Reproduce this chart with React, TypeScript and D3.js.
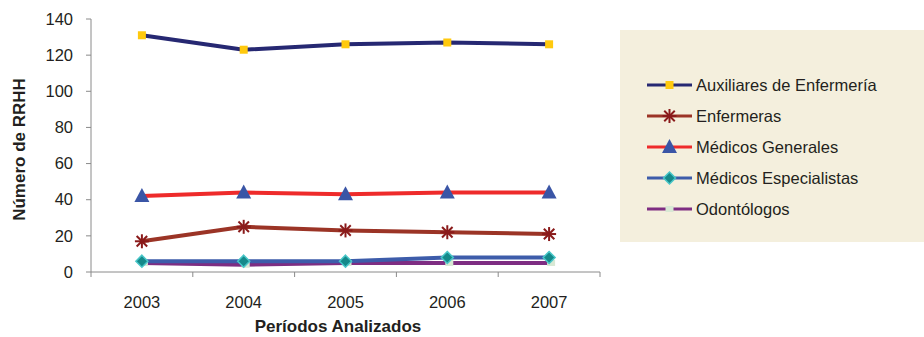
import React from "react";
import * as d3 from "d3";

const years = ["2003", "2004", "2005", "2006", "2007"];
const auxiliares = [131, 123, 126, 127, 126];
const enfermeras = [17, 25, 23, 22, 21];
const medGenerales = [42, 44, 43, 44, 44];
const medEspecialistas = [6, 6, 6, 8, 8];
const odontologos = [5, 4, 5, 5, 5];
const yTicks = [0, 20, 40, 60, 80, 100, 120, 140];

type Series = { name: string; values: number[]; line: string; marker: string };
const series: Series[] = [
  { name: "Auxiliares de Enfermería", values: auxiliares, line: "#262872", marker: "square" },
  { name: "Enfermeras", values: enfermeras, line: "#9B3426", marker: "star" },
  { name: "Médicos Generales", values: medGenerales, line: "#EE2B2B", marker: "triangle" },
  { name: "Médicos Especialistas", values: medEspecialistas, line: "#3D5CAA", marker: "diamond" },
  { name: "Odontólogos", values: odontologos, line: "#7E2D82", marker: "smallsquare" },
];

const FONT = "'Liberation Sans', Arial, Helvetica, sans-serif";

function Marker({ type, x, y }: { type: string; x: number; y: number }) {
  if (type === "square")
    return <rect x={x - 4} y={y - 4} width={8} height={8} fill="#FFC90E" />;
  if (type === "star") {
    const r = 7;
    return (
      <g stroke="#8A1A1A" strokeWidth={2}>
        <line x1={x - r} y1={y} x2={x + r} y2={y} />
        <line x1={x} y1={y - r} x2={x} y2={y + r} />
        <line x1={x - r * 0.75} y1={y - r * 0.75} x2={x + r * 0.75} y2={y + r * 0.75} />
        <line x1={x - r * 0.75} y1={y + r * 0.75} x2={x + r * 0.75} y2={y - r * 0.75} />
      </g>
    );
  }
  if (type === "triangle")
    return <path d={`M${x},${y - 8} L${x + 7.5},${y + 6} L${x - 7.5},${y + 6} Z`} fill="#3A55A6" />;
  if (type === "diamond")
    return (
      <path
        d={`M${x},${y - 6} L${x + 6},${y} L${x},${y + 6} L${x - 6},${y} Z`}
        fill="#15898A"
        stroke="#48C6C8"
        strokeWidth={1.5}
      />
    );
  return <rect x={x - 4} y={y - 3} width={8} height={6} fill="#D8E8D4" />;
}

export default function App() {
  const W = 924, H = 337;
  const left = 91, right = 600, top = 19, bottom = 272;
  const x = d3.scaleBand<string>().domain(years).range([left, right]);
  const y = d3.scaleLinear().domain([0, 140]).range([bottom, top]);
  const cx = (yr: string) => (x(yr) as number) + x.bandwidth() / 2;
  const lineGen = (vals: number[]) =>
    d3.line<number>().x((_, i) => cx(years[i])).y((v) => y(v))(vals) as string;
  const bounds = [...years.map((yr) => x(yr) as number), right];

  return (
    <svg width={W} height={H} style={{ position: "absolute", left: 0, top: 0 }} fontFamily={FONT}>
      <rect x={0} y={0} width={W} height={H} fill="#fff" />
      <rect x={620} y={30} width={310} height={212} fill="#F4EFDD" />
      <line x1={left} y1={top} x2={left} y2={bottom} stroke="#8a8a8a" strokeWidth={1} />
      <line x1={left} y1={bottom} x2={right} y2={bottom} stroke="#8a8a8a" strokeWidth={1} />
      {yTicks.map((t) => (
        <g key={t}>
          <line x1={left - 5} y1={y(t)} x2={left} y2={y(t)} stroke="#8a8a8a" />
          <text x={73} y={y(t)} dy="0.35em" textAnchor="end" fontSize={16.5} fill="#231F20">
            {t}
          </text>
        </g>
      ))}
      {bounds.map((b, i) => (
        <line key={i} x1={b} y1={bottom} x2={b} y2={bottom + 5} stroke="#8a8a8a" />
      ))}
      {years.map((yr) => (
        <text key={yr} x={cx(yr)} y={308} textAnchor="middle" fontSize={16.5} fill="#231F20">
          {yr}
        </text>
      ))}
      <text
        transform={`translate(25,${(top + bottom) / 2 + 4}) rotate(-90)`}
        textAnchor="middle"
        fontSize={17}
        fontWeight="bold"
        fill="#231F20"
      >
        Número de RRHH
      </text>
      <text x={338} y={332} textAnchor="middle" fontSize={17} fontWeight="bold" fill="#231F20">
        Períodos Analizados
      </text>
      {[...series].reverse().map((s) => (
        <path key={s.name} d={lineGen(s.values)} fill="none" stroke={s.line} strokeWidth={4} strokeLinejoin="round" />
      ))}
      {[...series].reverse().map((s) => (
        <g key={s.name + "m"}>
          {s.values.map((v, i) => (
            <Marker key={i} type={s.marker} x={cx(years[i]) + (s.marker === "smallsquare" ? 2 : 0)} y={y(v)} />
          ))}
        </g>
      ))}
      {series.map((s, i) => {
        const ly = 85 + i * 31;
        return (
          <g key={s.name + "l"}>
            <line x1={647} y1={ly} x2={692} y2={ly} stroke={s.line} strokeWidth={3} />
            <Marker type={s.marker} x={669.5} y={ly} />
            <text x={696} y={ly} dy="0.35em" fontSize={16.5} fill="#231F20">
              {s.name}
            </text>
          </g>
        );
      })}
    </svg>
  );
}
